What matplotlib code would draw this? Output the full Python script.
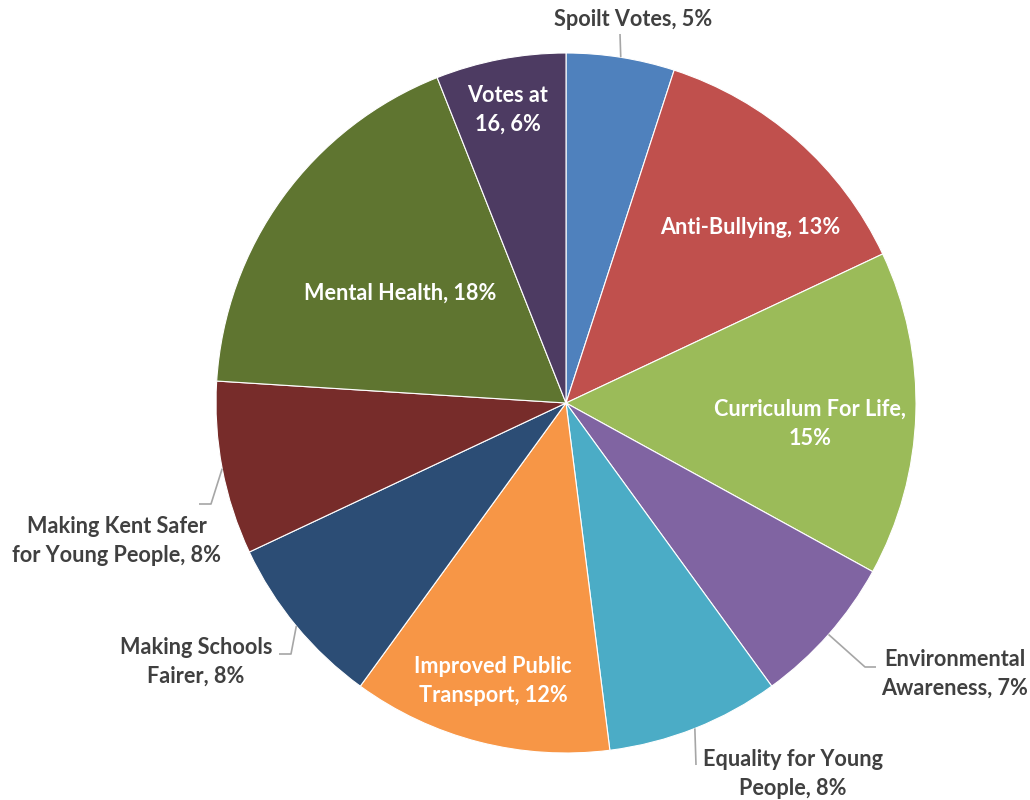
import numpy as np
import matplotlib
matplotlib.use("Agg")
import matplotlib.pyplot as plt

# slice data, clockwise from 12 o'clock
categories = [
    "Spoilt Votes", "Anti-Bullying", "Curriculum For Life",
    "Environmental Awareness", "Equality for Young People",
    "Improved Public Transport", "Making Schools Fairer",
    "Making Kent Safer for Young People", "Mental Health", "Votes at 16",
]
shares = [5, 13, 15, 7, 8, 12, 8, 8, 18, 6]
colors = ["#4F81BD", "#C0504D", "#9BBB59", "#8064A2", "#4BACC6",
          "#F79646", "#2C4D75", "#772C2A", "#5F7530", "#4D3B62"]

# label text as it appears (line breaks as in the chart)
label_text = [
    "Spoilt Votes, 5%", "Anti-Bullying, 13%", "Curriculum For Life,\n15%",
    "Environmental\nAwareness, 7%", "Equality for Young\nPeople, 8%",
    "Improved Public\nTransport, 12%", "Making Schools\nFairer, 8%",
    "Making Kent Safer\nfor Young People, 8%", "Mental Health, 18%",
    "Votes at\n16, 6%",
]

W, H = 1030, 800
CX, CY, R = 566, 403, 350  # pie centre/radius in image pixels


def px(x, y):
    # image pixel (y down) -> axes data (y up)
    return x, H - y


# label centres (image px) and whether label sits inside the slice
label_pos = [(633, 20), (750, 227), (810, 424), (955, 674), (793, 774),
             (493, 681), (196, 662), (117, 541), (400, 293), (508, 110)]
inside = [False, True, True, False, False, True, False, False, True, True]
# leader line points after the wedge edge point (image px)
leaders = {
    0: [(620, 34)],
    3: [(865, 667), (876, 667)],
    4: [(696, 765)],
    6: [(291, 654), (279, 654)],
    7: [(211, 504), (199, 504)],
}

plt.rcParams["font.family"] = ["Lato", "DejaVu Sans"]

fig = plt.figure(figsize=(W / 100, H / 100), dpi=100)
ax = fig.add_axes([0, 0, 1, 1])

wedges, _ = ax.pie(shares, colors=colors, startangle=90, counterclock=False,
                   center=px(CX, CY), radius=R,
                   wedgeprops=dict(edgecolor="white", linewidth=0.8))
ax.set_aspect("auto")
ax.set_xlim(0, W)
ax.set_ylim(0, H)
ax.axis("off")

for i, w in enumerate(wedges):
    if i in leaders:
        mid = np.deg2rad((w.theta1 + w.theta2) / 2)
        x0 = CX + R * np.cos(mid)
        y0 = CY - R * np.sin(mid)
        pts = [(x0, y0)] + leaders[i]
        xs = [p[0] for p in pts]
        ys = [H - p[1] for p in pts]
        ax.plot(xs, ys, color="#A6A6A6", lw=1.2, solid_capstyle="butt")
    ax.text(*px(*label_pos[i]), label_text[i], ha="center", va="center",
            fontsize=15.6, fontweight="bold", linespacing=1.45,
            color="white" if inside[i] else "#404040")

fig.savefig("out.png", dpi=100)
